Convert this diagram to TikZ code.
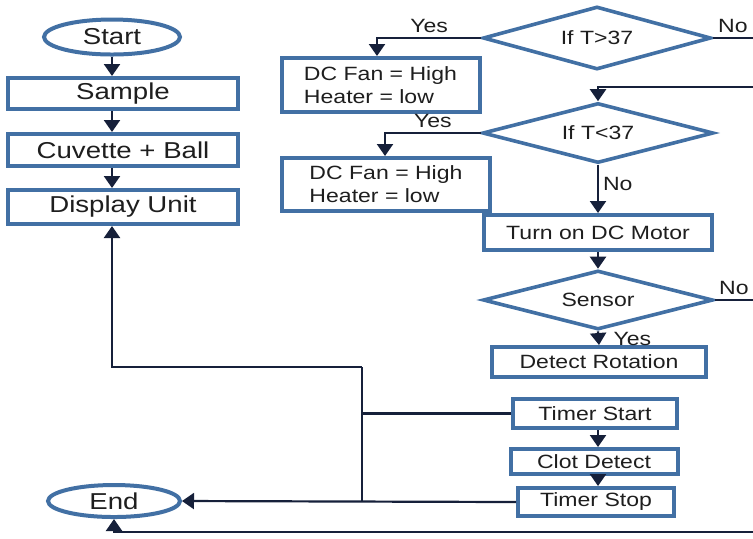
\documentclass[tikz,border=0pt]{standalone}
\usepackage{fontspec}
\setmainfont[FakeStretch=1.2]{Liberation Sans}
\usetikzlibrary{shapes.geometric,arrows.meta}
\definecolor{boxblue}{RGB}{66,112,164}
\definecolor{flowline}{RGB}{22,32,58}
\definecolor{txt}{RGB}{30,30,30}
\begin{document}
\begin{tikzpicture}[x=0.5pt, y=-0.5pt,
    txtbig/.style={font=\fontsize{11.5}{13}\selectfont, text=txt},
    txtsmall/.style={font=\fontsize{9.6}{11.5}\selectfont, text=txt},
    procbox/.style={rectangle, draw=boxblue, line width=2pt, fill=white, inner sep=0pt},
    termbox/.style={ellipse, draw=boxblue, line width=2pt, fill=white, inner sep=0pt, txtbig},
    decbox/.style={diamond, aspect=4, draw=boxblue, line width=1.8pt, fill=white, inner sep=0pt, txtsmall},
    line/.style={draw=flowline, line width=1.1pt},
    arr/.style={line, -{Triangle[width=8pt,length=6pt]}},
    lbl/.style={txtsmall, inner sep=2pt}]
        \useasboundingbox (0,0) rectangle (753,538);

        % left column
        \node[termbox, minimum width=68pt, minimum height=17.5pt] at (112,37) (start) {Start};
        \node[procbox, txtbig, minimum width=115pt, minimum height=15.5pt] at (123,93.5) (sample) {Sample};
        \node[procbox, txtbig, minimum width=115pt, minimum height=16pt] at (123,150) (cuvette) {Cuvette + Ball};
        \node[procbox, txtbig, minimum width=115pt, minimum height=17pt] at (123,207) (display) {Display Unit};
        \node[termbox, minimum width=66pt, minimum height=16pt] at (114,501) (end) {End};

        % temperature control
        \node[decbox, minimum width=114pt, minimum height=31.5pt] at (597,38) (tgt) {If T>37};
        \node[procbox, txtsmall, minimum width=99pt, minimum height=27pt, align=left] at (380.5,85) (fanA) {DC Fan = High\\Heater = low};
        \node[decbox, minimum width=115.5pt, minimum height=30pt] at (598,133) (tlt) {If T<37};
        \node[procbox, txtsmall, minimum width=104pt, minimum height=26.5pt, align=left] at (386,184.5) (fanB) {DC Fan = High\\Heater = low};

        % motor and timing
        \node[procbox, txtsmall, minimum width=114pt, minimum height=17.5pt] at (598,232.5) (motor) {Turn on DC Motor};
        \node[decbox, minimum width=115pt, minimum height=29.5pt] at (598,300) (sensor) {Sensor};
        \node[procbox, txtsmall, minimum width=107pt, minimum height=15pt] at (599,362) (detect) {Detect Rotation};
        \node[procbox, txtsmall, minimum width=82pt, minimum height=14.5pt] at (595,413.5) (tstart) {Timer Start};
        \node[procbox, txtsmall, minimum width=83.5pt, minimum height=12.5pt] at (594,461.5) (clot) {Clot Detect};
        \node[procbox, txtsmall, minimum width=78pt, minimum height=14pt] at (596,502) (tstop) {Timer Stop};

        \coordinate (edgeA) at (753,87);
        \coordinate (edgeB) at (753,532);
        \coordinate (joint) at (362,367);

        \draw [arr] (start.south) -- (start.south |- sample.north);
        \draw [arr] (sample.south -| start) -- (cuvette.north -| start);
        \draw [arr] (cuvette.south -| start) -- (display.north -| start);

        \draw [arr] (tgt.west) -| node [lbl, above, pos=0.25] {Yes} (fanA.north -| 377,0);
        \draw [line] (tgt.east) -- node [lbl, above] {No} (tgt.east -| edgeA);
        \draw [arr] (edgeA) -| (tlt.north);
        \draw [arr] (tlt.west) -| node [lbl, above, pos=0.25] {Yes} (fanB.north -| 385,0);
        \draw [arr] (tlt.south) -- node [lbl, right, pos=0.4] {No} (motor.north);
        \draw [arr] (motor.south) -- (sensor.north);
        \draw [line] (sensor.east) -- node [lbl, above] {No} (sensor.east -| edgeA);
        \draw [arr] (sensor.south) -- node [lbl, right=5pt, pos=0.55] {Yes} (detect.north);

        \draw [arr] (tstart.south -| motor) -- (clot.north -| motor);
        \draw [arr] (clot.south -| motor) -- (tstop.north -| motor);

        \draw [line] (tstart.west) -- (tstart.west -| joint);
        \draw [line] (joint) -- (joint |- tstop.west);
        \draw [arr] (joint) -| (display.south -| start);
        \draw [arr] (tstop.west) -- (end.east);
        \draw [arr] (edgeB) -| (end.south);

    \end{tikzpicture}
\end{document}
